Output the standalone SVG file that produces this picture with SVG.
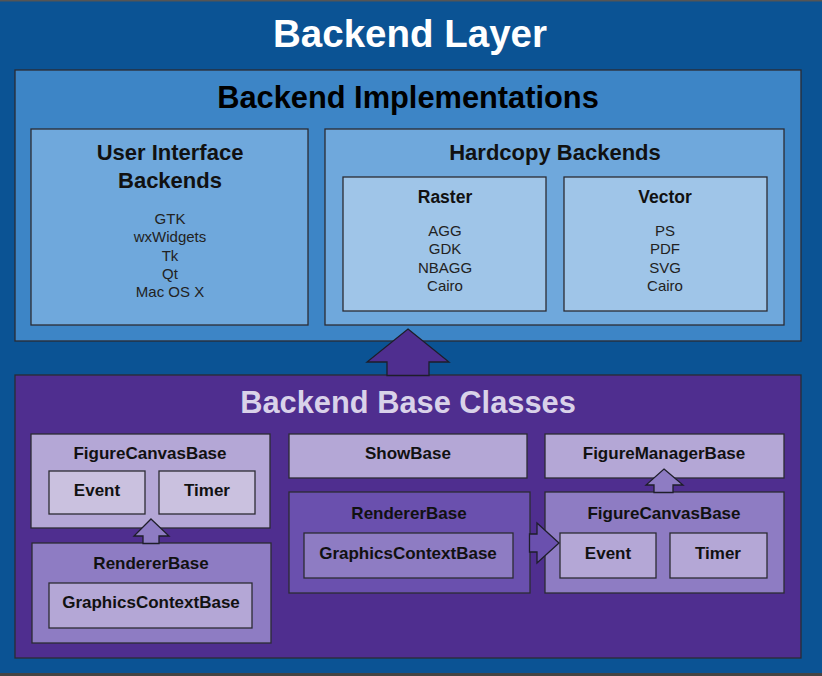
<svg xmlns="http://www.w3.org/2000/svg" width="822" height="676" viewBox="0 0 822 676">
<style>
text{font-family:"Liberation Sans",Arial,sans-serif;text-anchor:middle}
.b{stroke:#2b2b33;stroke-width:1.3}
.t1{font-size:38.5px;font-weight:bold;fill:#fff}
.t2{font-size:30.8px;font-weight:bold;fill:#000}
.t3{font-size:22px;font-weight:bold;fill:#111}
.t4{font-size:17.5px;font-weight:bold;fill:#111}
.it{font-size:15px;fill:#222}
.bc{font-size:17px;font-weight:bold;fill:#111}
</style>
<rect x="0" y="0" width="822" height="676" fill="#0b5394"/>
<rect x="0" y="0" width="822" height="1.5" fill="#555"/>
<rect x="0" y="673" width="822" height="3" fill="#444"/>
<text class="t1" x="410" y="47">Backend Layer</text>

<g id="impl">
<rect class="b" x="15" y="70" width="786" height="271" fill="#3d85c6"/>
<text class="t2" x="408" y="108">Backend Implementations</text>
</g>
<g id="ui">
<rect class="b" x="31" y="129" width="277" height="196" fill="#6fa8dc"/>
<text class="t3" x="170" y="160">User Interface</text>
<text class="t3" x="170" y="188">Backends</text>
<text class="it" x="170" y="224">GTK</text>
<text class="it" x="170" y="242">wxWidgets</text>
<text class="it" x="170" y="261">Tk</text>
<text class="it" x="170" y="279">Qt</text>
<text class="it" x="170" y="297">Mac OS X</text>
</g>
<g id="hardcopy">
<rect class="b" x="325" y="129" width="459" height="196" fill="#6fa8dc"/>
<text class="t3" x="555" y="160">Hardcopy Backends</text>
</g>
<g id="raster">
<rect class="b" x="343" y="177" width="203" height="134" fill="#9fc5e8"/>
<text class="t4" x="445" y="203">Raster</text>
<text class="it" x="445" y="236">AGG</text>
<text class="it" x="445" y="254">GDK</text>
<text class="it" x="445" y="273">NBAGG</text>
<text class="it" x="445" y="291">Cairo</text>
</g>
<g id="vector">
<rect class="b" x="564" y="177" width="203" height="134" fill="#9fc5e8"/>
<text class="t4" x="665" y="203">Vector</text>
<text class="it" x="665" y="236">PS</text>
<text class="it" x="665" y="254">PDF</text>
<text class="it" x="665" y="273">SVG</text>
<text class="it" x="665" y="291">Cairo</text>
</g>

<g id="base">
<rect class="b" x="15" y="375" width="786" height="283" fill="#4f2e8f"/>
<text x="408" y="413" style="font-size:30.8px;font-weight:bold;fill:#d9d2e9">Backend Base Classes</text>
</g>

<g id="fcb-left">
<rect class="b" x="31" y="434" width="239" height="94" fill="#b4a7d6"/>
<text class="bc" x="150" y="459">FigureCanvasBase</text>
<rect class="b" x="49" y="471" width="96" height="43" fill="#cac1df"/>
<text class="bc" x="97" y="496">Event</text>
<rect class="b" x="159" y="471" width="96" height="43" fill="#cac1df"/>
<text class="bc" x="207" y="496">Timer</text>
</g>
<g id="rb-left">
<rect class="b" x="32" y="543" width="239" height="100" fill="#8e7cc3"/>
<text class="bc" x="151" y="569">RendererBase</text>
<rect class="b" x="49" y="583" width="203" height="45" fill="#b4a7d6"/>
<text class="bc" x="151" y="608">GraphicsContextBase</text>
</g>
<g id="showbase">
<rect class="b" x="289" y="434" width="238" height="44" fill="#b4a7d6"/>
<text class="bc" x="408" y="459">ShowBase</text>
</g>
<g id="rb-mid">
<rect class="b" x="289" y="492" width="241" height="101" fill="#6a50ae"/>
<text class="bc" x="409" y="519">RendererBase</text>
<rect class="b" x="304" y="533" width="209" height="45" fill="#8e7cc3"/>
<text class="bc" x="408" y="559">GraphicsContextBase</text>
</g>
<g id="fmb">
<rect class="b" x="545" y="434" width="239" height="44" fill="#b4a7d6"/>
<text class="bc" x="664" y="459">FigureManagerBase</text>
</g>
<g id="fcb-right">
<rect class="b" x="545" y="492" width="239" height="101" fill="#8e7cc3"/>
<text class="bc" x="664" y="519">FigureCanvasBase</text>
<rect class="b" x="560" y="533" width="96" height="45" fill="#b4a7d6"/>
<text class="bc" x="608" y="559">Event</text>
<rect class="b" x="670" y="533" width="97" height="45" fill="#b4a7d6"/>
<text class="bc" x="718" y="559">Timer</text>
</g>

<g id="connectors" stroke="#1e1e2a" stroke-width="1.3" stroke-linejoin="miter">
<path d="M408 329 L449 362 L429 362 L429 375.5 L387 375.5 L387 362 L367 362 Z" fill="#4f2e8f"/>
<path d="M151 519 L169 536 L159 536 L159 543.5 L143 543.5 L143 536 L134 536 Z" fill="#8e7cc3"/>
<path d="M664 469 L683 485 L673 485 L673 492.5 L654 492.5 L654 485 L646 485 Z" fill="#8e7cc3"/>
<path d="M559 543 L537 523 L537 534 L529.5 534 L529.5 552 L537 552 L537 563 Z" fill="#6a50ae"/>
</g>
</svg>
